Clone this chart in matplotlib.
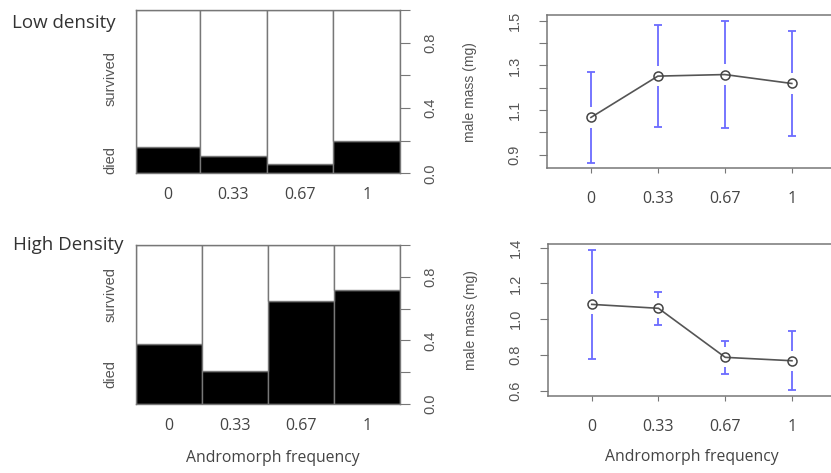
import matplotlib
matplotlib.use("Agg")
import matplotlib.pyplot as plt
import matplotlib.transforms as mtransforms
import numpy as np

# andromorph frequency groups
freq_labels = ["0", "0.33", "0.67", "1"]

# survival (proportion died) and group sizes for the spineplots
low_died = [0.16, 0.105, 0.055, 0.20]
high_died = [0.38, 0.21, 0.65, 0.72]
low_n = [48, 50, 50, 50]
high_n = [50, 50, 50, 50]

# male mass means and error half-widths (mg)
low_mass = [1.067, 1.252, 1.259, 1.219]
low_err = [0.202, 0.229, 0.241, 0.236]
high_mass = [1.083, 1.061, 0.787, 0.768]
high_err = [0.306, 0.092, 0.092, 0.164]

W, H = 831, 473
AXCOL = "#777777"
TXT = "#444444"
BLUE = "#6b6bff"
LABEL_FONT = ["Open Sans", "DejaVu Sans"]
R_FONT = ["Liberation Sans", "DejaVu Sans"]


def px_rect(x0, y0, x1, y1):
    # pixel box (top-left origin) -> figure fraction rect
    return [x0 / W, 1 - y1 / H, (x1 - x0) / W, (y1 - y0) / H]


def spine_plot(ax, died, n):
    n = np.asarray(n, dtype=float)
    widths = n / n.sum()
    lefts = np.concatenate([[0], np.cumsum(widths)[:-1]])
    died = np.asarray(died)
    ax.bar(lefts, died, width=widths, align="edge", color="black",
           edgecolor=AXCOL, linewidth=1.0)
    ax.bar(lefts, 1 - died, bottom=died, width=widths, align="edge",
           color="white", edgecolor=AXCOL, linewidth=1.0)
    ax.set_xlim(0, 1)
    ax.set_ylim(0, 1)
    for s in ax.spines.values():
        s.set_color(AXCOL)
        s.set_linewidth(1.0)
    ax.set_xticks(lefts + widths / 2)
    ax.set_xticklabels(freq_labels, family=LABEL_FONT, fontsize=11.5, color=TXT)
    ax.tick_params(axis="x", length=0, pad=10)
    ax.yaxis.tick_right()
    ax.set_yticks([0, 0.2, 0.4, 0.6, 0.8, 1.0])
    ax.set_yticklabels(["0.0", "", "0.4", "", "0.8", ""], rotation=90,
                       va="center", family=R_FONT, fontsize=10.5, color="#555555")
    ax.tick_params(axis="y", length=7, color=AXCOL, pad=10)
    # level names beside the first column, like R's spineplot
    tr = mtransforms.blended_transform_factory(ax.transAxes, ax.transData)
    for name, y in [("died", died[0] / 2), ("survived", (died[0] + 1) / 2)]:
        ax.text(-0.098, y, name, transform=tr, rotation=90, ha="center",
                va="center", family=R_FONT, fontsize=10.5, color="#555555")


def mass_plot(ax, mass, err, yticks, ylabels):
    x = np.arange(1, len(mass) + 1)
    mass = np.asarray(mass)
    err = np.asarray(err)
    lo, hi = (mass - err).min(), (mass + err).max()
    ext = 0.04 * (hi - lo)
    ax.set_ylim(lo - ext, hi + ext)
    ax.set_xlim(0.34, 4.66)
    gap = 0.066 * (hi - lo + 2 * ext)
    # error bars with a gap around each mean
    ax.vlines(x, mass + gap, mass + err, color=BLUE, lw=1.3)
    ax.vlines(x, mass - err, mass - gap, color=BLUE, lw=1.3)
    ax.plot(x, mass + err, ls="none", marker="_", ms=6, mew=1.3, color=BLUE)
    ax.plot(x, mass - err, ls="none", marker="_", ms=6, mew=1.3, color=BLUE)
    ax.plot(x, mass, color="#555555", lw=1.2, marker="o", ms=6.5,
            mfc="none", mec="#444444", mew=1.1)
    for s in ax.spines.values():
        s.set_color(AXCOL)
        s.set_linewidth(1.1)
    ax.set_xticks(x)
    ax.set_xticklabels(freq_labels, family=LABEL_FONT, fontsize=11.5, color=TXT)
    ax.tick_params(axis="x", length=3.5, color=AXCOL, pad=13)
    ax.set_yticks(yticks)
    ax.set_yticklabels(ylabels, rotation=90, va="center", family=R_FONT,
                       fontsize=10.5, color="#555555")
    ax.tick_params(axis="y", length=6, color=AXCOL, pad=12)
    ax.text(-0.265, 0.5, "male mass (mg)", transform=ax.transAxes,
            rotation=90, ha="center", va="center", family=R_FONT,
            fontsize=10, color="#555555")


fig = plt.figure(figsize=(W / 100, H / 100), dpi=100)

ax1 = fig.add_axes(px_rect(136, 10, 400, 173.3))
spine_plot(ax1, low_died, low_n)
ax2 = fig.add_axes(px_rect(136, 245, 400, 404))
spine_plot(ax2, high_died, high_n)

ax3 = fig.add_axes(px_rect(546.7, 15, 836, 168.3))
mass_plot(ax3, low_mass, low_err,
          [0.9, 1.0, 1.1, 1.2, 1.3, 1.4, 1.5],
          ["0.9", "", "1.1", "", "1.3", "", "1.5"])
ax4 = fig.add_axes(px_rect(547.7, 244, 836, 395.7))
mass_plot(ax4, high_mass, high_err,
          [0.6, 0.8, 1.0, 1.2, 1.4],
          ["0.6", "0.8", "1.0", "1.2", "1.4"])

fig.text(12 / W, 1 - 23 / H, "Low density", ha="left", va="center",
         family=LABEL_FONT, fontsize=13.5, color="#333333")
fig.text(13 / W, 1 - 245 / H, "High Density", ha="left", va="center",
         family=LABEL_FONT, fontsize=13.5, color="#333333")
fig.text(273 / W, 1 - 458 / H, "Andromorph frequency", ha="center",
         va="center", family=LABEL_FONT, fontsize=11.3, color=TXT)
fig.text(692 / W, 1 - 457 / H, "Andromorph frequency", ha="center",
         va="center", family=LABEL_FONT, fontsize=11.3, color=TXT)

fig.savefig("out.png", dpi=100)
